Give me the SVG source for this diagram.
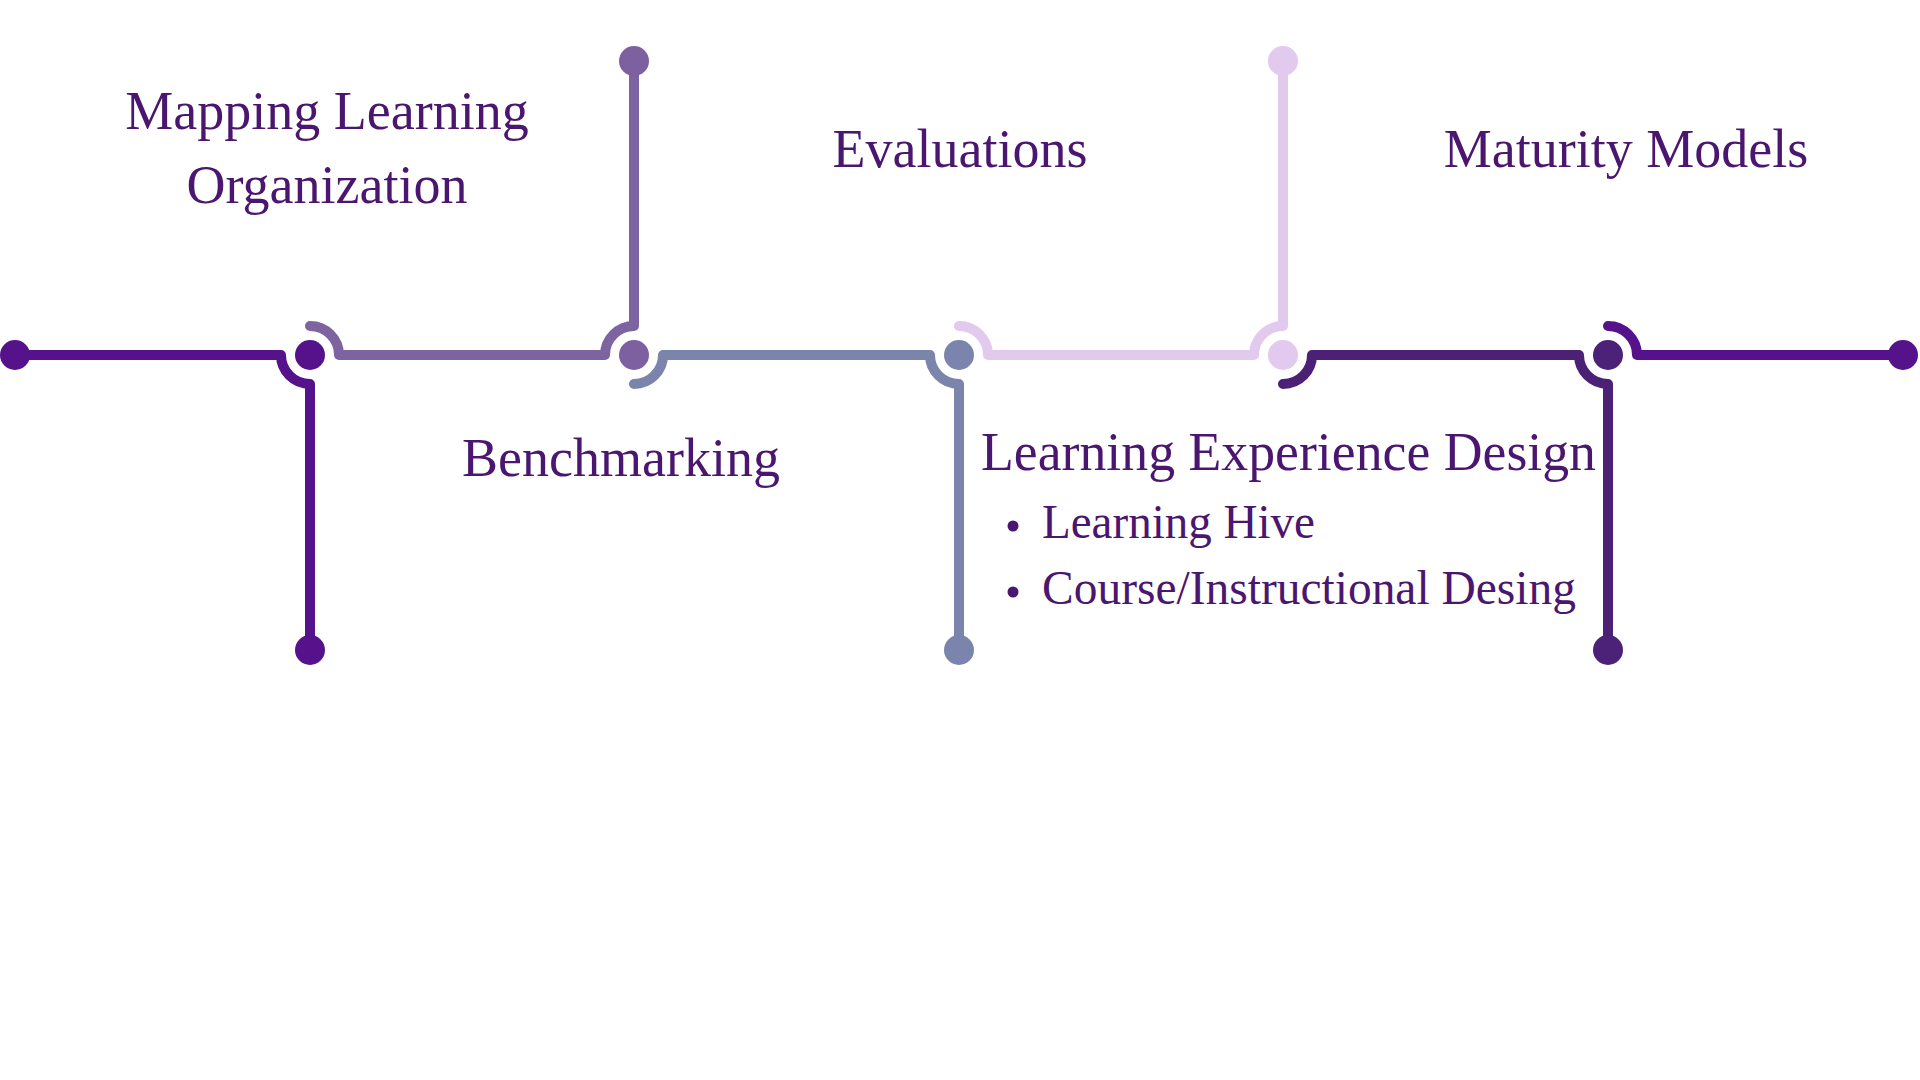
<svg xmlns="http://www.w3.org/2000/svg" width="1920" height="1080" viewBox="0 0 1920 1080">
  <style>
    .ln { fill: none; stroke-width: 10; stroke-linecap: round; stroke-linejoin: round; }
    .c1 { stroke: #55128A; } .f1 { fill: #55128A; }
    .c2 { stroke: #7D63A0; } .f2 { fill: #7C60A0; }
    .c3 { stroke: #7B85AB; } .f3 { fill: #7B84AD; }
    .c4 { stroke: #E2CAEE; } .f4 { fill: #E2C9EE; }
    .c5 { stroke: #4B2075; } .f5 { fill: #4B2277; }
    .lbl { font-family: "Liberation Serif", "Times New Roman", serif; fill: #4A166F; }
    .big { font-size: 54px; }
    .sub { font-size: 47.5px; }
  </style>
  <rect width="1920" height="1080" fill="#FFFFFF"/>

  <g id="connectors">
    <path class="ln c1" d="M15,355 H281 A29,29 0 0 0 310,384 V650"/>
    <path class="ln c2" d="M310,326 A29,29 0 0 1 339,355 H605 A29,29 0 0 1 634,326 V61"/>
    <path class="ln c3" d="M634,384 A29,29 0 0 0 663,355 H930 A29,29 0 0 0 959,384 V650"/>
    <path class="ln c4" d="M959,326 A29,29 0 0 1 988,355 H1254 A29,29 0 0 1 1283,326 V61"/>
    <path class="ln c5" d="M1283,384 A29,29 0 0 0 1312,355 H1579 A29,29 0 0 0 1608,384 V650"/>
    <path class="ln c1" d="M1608,326 A29,29 0 0 1 1637,355 H1903"/>
  </g>

  <g id="node-start"><circle class="f1" cx="15" cy="355" r="15"/></g>
  <g id="node-1"><circle class="f1" cx="310" cy="355" r="15"/><circle class="f1" cx="310" cy="650" r="15"/></g>
  <g id="node-2"><circle class="f2" cx="634" cy="355" r="15"/><circle class="f2" cx="634" cy="61" r="15"/></g>
  <g id="node-3"><circle class="f3" cx="959" cy="355" r="15"/><circle class="f3" cx="959" cy="650" r="15"/></g>
  <g id="node-4"><circle class="f4" cx="1283" cy="355" r="15"/><circle class="f4" cx="1283" cy="61" r="15"/></g>
  <g id="node-5"><circle class="f5" cx="1608" cy="355" r="15"/><circle class="f5" cx="1608" cy="650" r="15"/></g>
  <g id="node-end"><circle class="f1" cx="1903" cy="355" r="15"/></g>

  <g id="label-mapping" class="lbl big" text-anchor="middle">
    <text x="327" y="129">Mapping Learning</text>
    <text x="327" y="203">Organization</text>
  </g>
  <g id="label-benchmarking" class="lbl big" text-anchor="middle">
    <text x="621" y="476">Benchmarking</text>
  </g>
  <g id="label-evaluations" class="lbl big" text-anchor="middle">
    <text x="960" y="167">Evaluations</text>
  </g>
  <g id="label-lxd" class="lbl">
    <text class="big" x="981" y="470" textLength="615" lengthAdjust="spacingAndGlyphs">Learning Experience Design</text>
    <circle cx="1013" cy="526" r="5.5" fill="#4A166F"/>
    <text class="sub" x="1042" y="538" textLength="273" lengthAdjust="spacingAndGlyphs">Learning Hive</text>
    <circle cx="1013" cy="592" r="5.5" fill="#4A166F"/>
    <text class="sub" x="1042" y="604" textLength="534" lengthAdjust="spacingAndGlyphs">Course/Instructional Desing</text>
  </g>
  <g id="label-maturity" class="lbl big" text-anchor="middle">
    <text x="1626" y="167">Maturity Models</text>
  </g>
</svg>
